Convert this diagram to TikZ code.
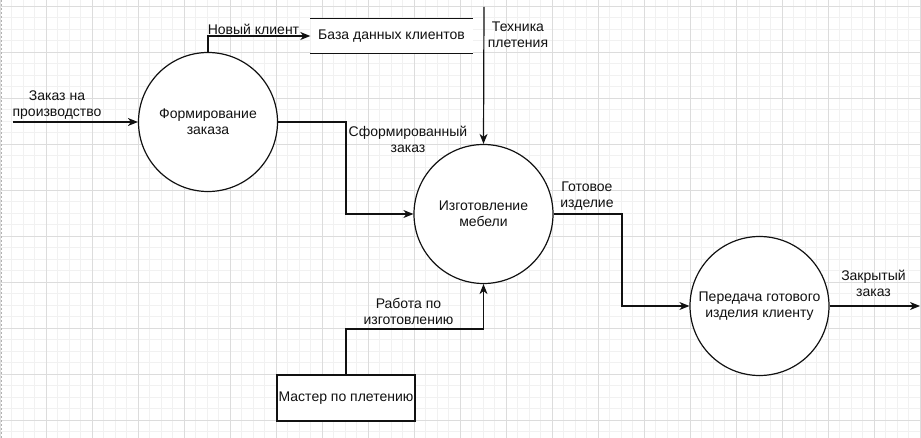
\documentclass[tikz,border=0pt]{standalone}
\usepackage{fontspec}
\setmainfont{Liberation Sans}
\usetikzlibrary{arrows.meta,calc}
\definecolor{minorgrid}{HTML}{F1F1F1}
\definecolor{majorgrid}{HTML}{DCDCDC}
\definecolor{ink}{HTML}{111111}
\begin{document}
\begin{tikzpicture}[x=1pt,y=-1pt,
  txt/.style={font=\fontsize{14}{16}\selectfont, text=ink, align=center, inner sep=0pt},
  proc/.style={circle, draw=ink, line width=1.2pt, fill=white, minimum size=139pt, inner sep=0pt, txt},
  boxnode/.style={rectangle, draw=ink, line width=1.2pt, fill=white, minimum width=138pt, minimum height=46pt, txt},
  storenode/.style={rectangle, fill=white, minimum width=162pt, minimum height=34pt, txt},
  flow/.style={draw=ink, line width=1.2pt, -{Stealth[length=10pt,width=8pt,inset=3pt]}},
  plain/.style={draw=ink, line width=1.2pt}
]
\useasboundingbox (0,0) rectangle (921,438);
\fill[white] (0,0) rectangle (921,438);
% grid
\foreach \i in {0,...,80} {\draw[minorgrid, line width=0.8pt] ({11.5*\i},0) -- ({11.5*\i},438);}
\foreach \i in {0,...,38} {\draw[minorgrid, line width=0.8pt] (0,{6+11.5*\i}) -- (921,{6+11.5*\i});}
\foreach \i in {0,...,20} {\draw[majorgrid, line width=0.8pt] ({46*\i},0) -- ({46*\i},438);}
\foreach \i in {0,...,9} {\draw[majorgrid, line width=0.8pt] (0,{6+46*\i}) -- (921,{6+46*\i});}
\draw[gray!60, line width=1pt, dash pattern=on 2pt off 2pt] (1,0) -- (1,438);

% nodes
\node[proc] (c1) at (208,122) {Формирование\\заказа};
\node[proc] (c2) at (483.5,214) {Изготовление\\мебели};
\node[proc] (c3) at (759.5,306) {Передача готового\\изделия клиенту};
\node[storenode] (db) at (391.5,36) {База данных клиентов};
\draw[plain] (db.north west) -- (db.north east);
\draw[plain] (db.south west) -- (db.south east);
\node[boxnode] (master) at (346,398) {Мастер по плетению};

% coordinates
\coordinate (inS) at (13,122);
\coordinate (topS) at (484,7);
\coordinate (outE) at (920,306);
\coordinate (sx) at (346,122);
\coordinate (gx) at (622,214);
\coordinate (my) at (346,329);

% connectors
\draw[flow] (inS) -- (c1.west);
\draw[flow] (c1.north) |- (db.west);
\draw[flow] (topS) -- (c2.north);
\draw[flow] (c1.east) -- (sx) |- (c2.west);
\draw[flow] (c2.east) -- (gx) |- (c3.west);
\draw[flow] (c3.east) -- (outE);
\draw[flow] (master.north) -- (my) -| (c2.south);

% labels
\node[txt] (l1) at (57,105) {Заказ на\\производство};
\node[txt] (l2) at (253.5,29) {Новый клиент};
\node[txt] (l3) at (518,35) {Техника\\плетения};
\node[txt] (l4) at (408,139.5) {Сформированный\\заказ};
\node[txt] (l5) at (587,196.5) {Готовое\\изделие};
\node[txt] (l6) at (873.5,283) {Закрытый\\заказ};
\node[txt] (l7) at (408.5,311.5) {Работа по\\изготовлению};
\end{tikzpicture}
\end{document}
